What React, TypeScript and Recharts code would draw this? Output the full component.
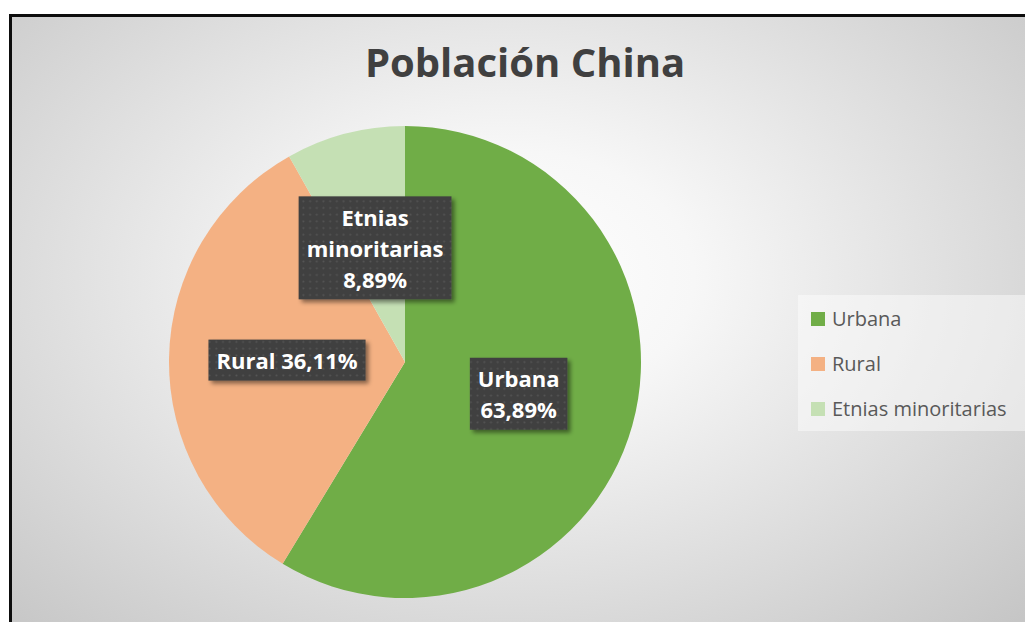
import { PieChart, Pie, Cell, Legend } from 'recharts';

const categories = ['Urbana', 'Rural', 'Etnias minoritarias'];
const values = [63.89, 36.11, 8.89];
const colors = ['#70AD47', '#F4B183', '#C5E0B4'];
// how each data label wraps inside its box
const labelLines = [
  ['Urbana', '63,89%'],
  ['Rural 36,11%'],
  ['Etnias', 'minoritarias', '8,89%'],
];

const data = categories.map((name, i) => ({ name, value: values[i] }));

const FONT = "'Open Sans', 'Noto Sans', sans-serif";
const LABEL_FONT_SIZE = 22;
const LINE_H = 31;
const RAD = Math.PI / 180;

let ctx: CanvasRenderingContext2D | null = null;
const measure = (text: string) => {
  if (!ctx) ctx = document.createElement('canvas').getContext('2d');
  if (!ctx) return text.length * 12;
  ctx.font = `bold ${LABEL_FONT_SIZE}px ${FONT}`;
  return ctx.measureText(text).width;
};

const renderLabel = (props: any) => {
  const { cx, cy, midAngle, outerRadius, index } = props;
  const r = outerRadius * 0.5;
  const x = cx + r * Math.cos(-midAngle * RAD);
  const y = cy + r * Math.sin(-midAngle * RAD);
  const lines = labelLines[index] || [];
  const w = Math.max(...lines.map(measure)) + 16;
  const h = lines.length * LINE_H + 10;
  const pid = `dots-${index}`;
  const fid = `shadow-${index}`;

  return (
    <g key={`lbl-${index}`}>
      <defs>
        <pattern id={pid} width={6.7} height={6.7} patternUnits="userSpaceOnUse">
          <rect width={6.7} height={6.7} fill="#404040" />
          <circle cx={3.3} cy={3.3} r={1} fill="#555555" />
        </pattern>
        <filter id={fid} x="-20%" y="-20%" width="140%" height="150%">
          <feDropShadow dx={3} dy={3} stdDeviation={2} floodColor="#000" floodOpacity={0.45} />
        </filter>
      </defs>
      <rect
        x={x - w / 2}
        y={y - h / 2}
        width={w}
        height={h}
        fill={`url(#${pid})`}
        filter={`url(#${fid})`}
      />
      {lines.map((line, i) => (
        <text
          key={i}
          x={x}
          y={y - h / 2 + 5 + LINE_H * i + LINE_H / 2}
          textAnchor="middle"
          dominantBaseline="central"
          fill="#ffffff"
          fontFamily={FONT}
          fontWeight={700}
          fontSize={LABEL_FONT_SIZE}
        >
          {line}
        </text>
      ))}
    </g>
  );
};

// legend drawn in the category order (Recharts flips it for this pie)
const renderLegend = () => (
  <div
    style={{
      width: 227,
      height: 136,
      background: 'rgba(255,255,255,0.45)',
      boxSizing: 'border-box',
      paddingTop: 1,
    }}
  >
    {categories.map((name, index) => (
      <div
        key={index}
        style={{ display: 'flex', alignItems: 'center', height: 45, paddingLeft: 13 }}
      >
        <div style={{ width: 14, height: 14, backgroundColor: colors[index], marginRight: 7 }} />
        <span style={{ color: '#595959', fontSize: 20, fontFamily: FONT }}>{name}</span>
      </div>
    ))}
  </div>
);

export default function App() {
  return (
    <div
      style={{
        position: 'absolute',
        left: 9,
        top: 14,
        width: 1028,
        height: 620,
        borderLeft: '3px solid #0d0d0d',
        borderTop: '3px solid #0d0d0d',
        background:
          'radial-gradient(ellipse farthest-corner at 48% 42%, #ffffff 0%, #f7f7f7 25%, #c3c3c3 100%)',
        overflow: 'hidden',
      }}
    >
      <div
        style={{
          position: 'absolute',
          top: 17,
          left: 0,
          width: 1026,
          textAlign: 'center',
          fontFamily: FONT,
          fontWeight: 700,
          fontSize: 40,
          color: '#404040',
        }}
      >
        Población China
      </div>
      <PieChart width={1028} height={620}>
        <Pie
          data={data}
          dataKey="value"
          nameKey="name"
          cx={388}
          cy={340}
          outerRadius={236}
          startAngle={90}
          endAngle={-270}
          stroke="none"
          label={renderLabel}
          labelLine={false}
          isAnimationActive={false}
        >
          {data.map((entry, index) => (
            <Cell key={`cell-${index}`} fill={colors[index]} />
          ))}
        </Pie>
        <Legend
          content={renderLegend}
          layout="vertical"
          wrapperStyle={{ left: 786, top: 278, width: 227, height: 136 }}
        />
      </PieChart>
    </div>
  );
}
